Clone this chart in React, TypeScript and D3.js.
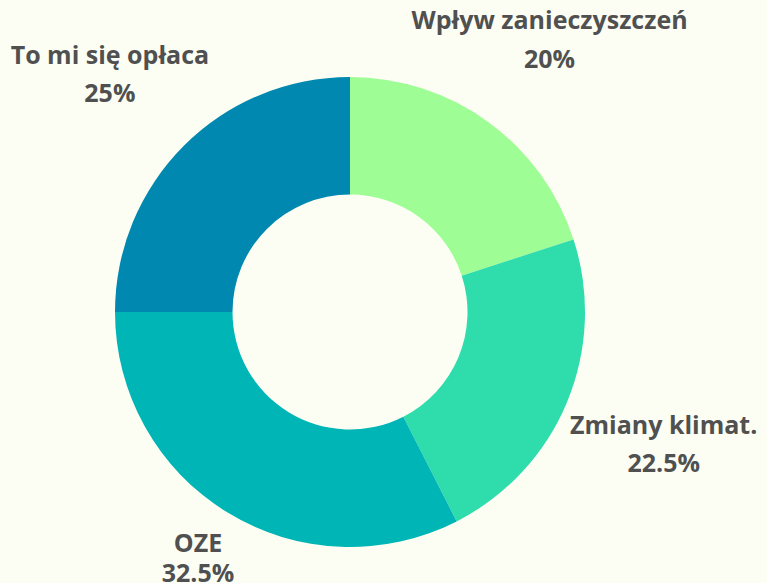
import React from "react";
import * as d3 from "d3";

const categories = ["Wpływ zanieczyszczeń", "Zmiany klimat.", "OZE", "To mi się opłaca"];
const values = [20, 22.5, 32.5, 25];
const valueLabels = ["20%", "22.5%", "32.5%", "25%"];
const colors = ["#9efd94", "#2edcac", "#00b5b5", "#0088b0"];

const W = 767;
const H = 583;

export default function App() {
  const cx = 350;
  const cy = 312;
  const outer = 235;
  const inner = 117.5;
  const pie = d3.pie<number>().sort(null).value((d) => d)(values);
  const arc = d3.arc<d3.PieArcDatum<number>>().innerRadius(inner).outerRadius(outer);
  const labelR = outer * 1.445;
  const maxAnchorY = 560;

  return (
    <div style={{ position: "fixed", left: 0, top: 0, width: W, height: H, background: "#fcfef4" }}>
      <svg width={W} height={H} style={{ display: "block" }}>
        <rect x={0} y={0} width={W} height={H} fill="#fcfef4" />
        <g transform={`translate(${cx},${cy})`}>
          {pie.map((p, i) => (
            <path key={i} d={arc(p) || ""} fill={colors[i]} />
          ))}
        </g>
        {pie.map((p, i) => {
          const a = (p.startAngle + p.endAngle) / 2;
          const dx = Math.sin(a);
          const dy = -Math.cos(a);
          let r = labelR;
          let gap = 38.5;
          if (cy + dy * r > maxAnchorY) {
            r = (maxAnchorY - cy) / dy;
            gap = 30;
          }
          const x = cx + dx * r;
          const ay = cy + dy * r;
          const base = ay - 8;
          return (
            <text
              key={i}
              x={x}
              y={base}
              textAnchor="middle"
              fontFamily="'Open Sans', sans-serif"
              fontWeight={700}
              fontSize={25}
              fill="#505050"
            >
              <tspan x={x} y={base}>{categories[i]}</tspan>
              <tspan x={x} y={base + gap}>{valueLabels[i]}</tspan>
            </text>
          );
        })}
      </svg>
    </div>
  );
}
